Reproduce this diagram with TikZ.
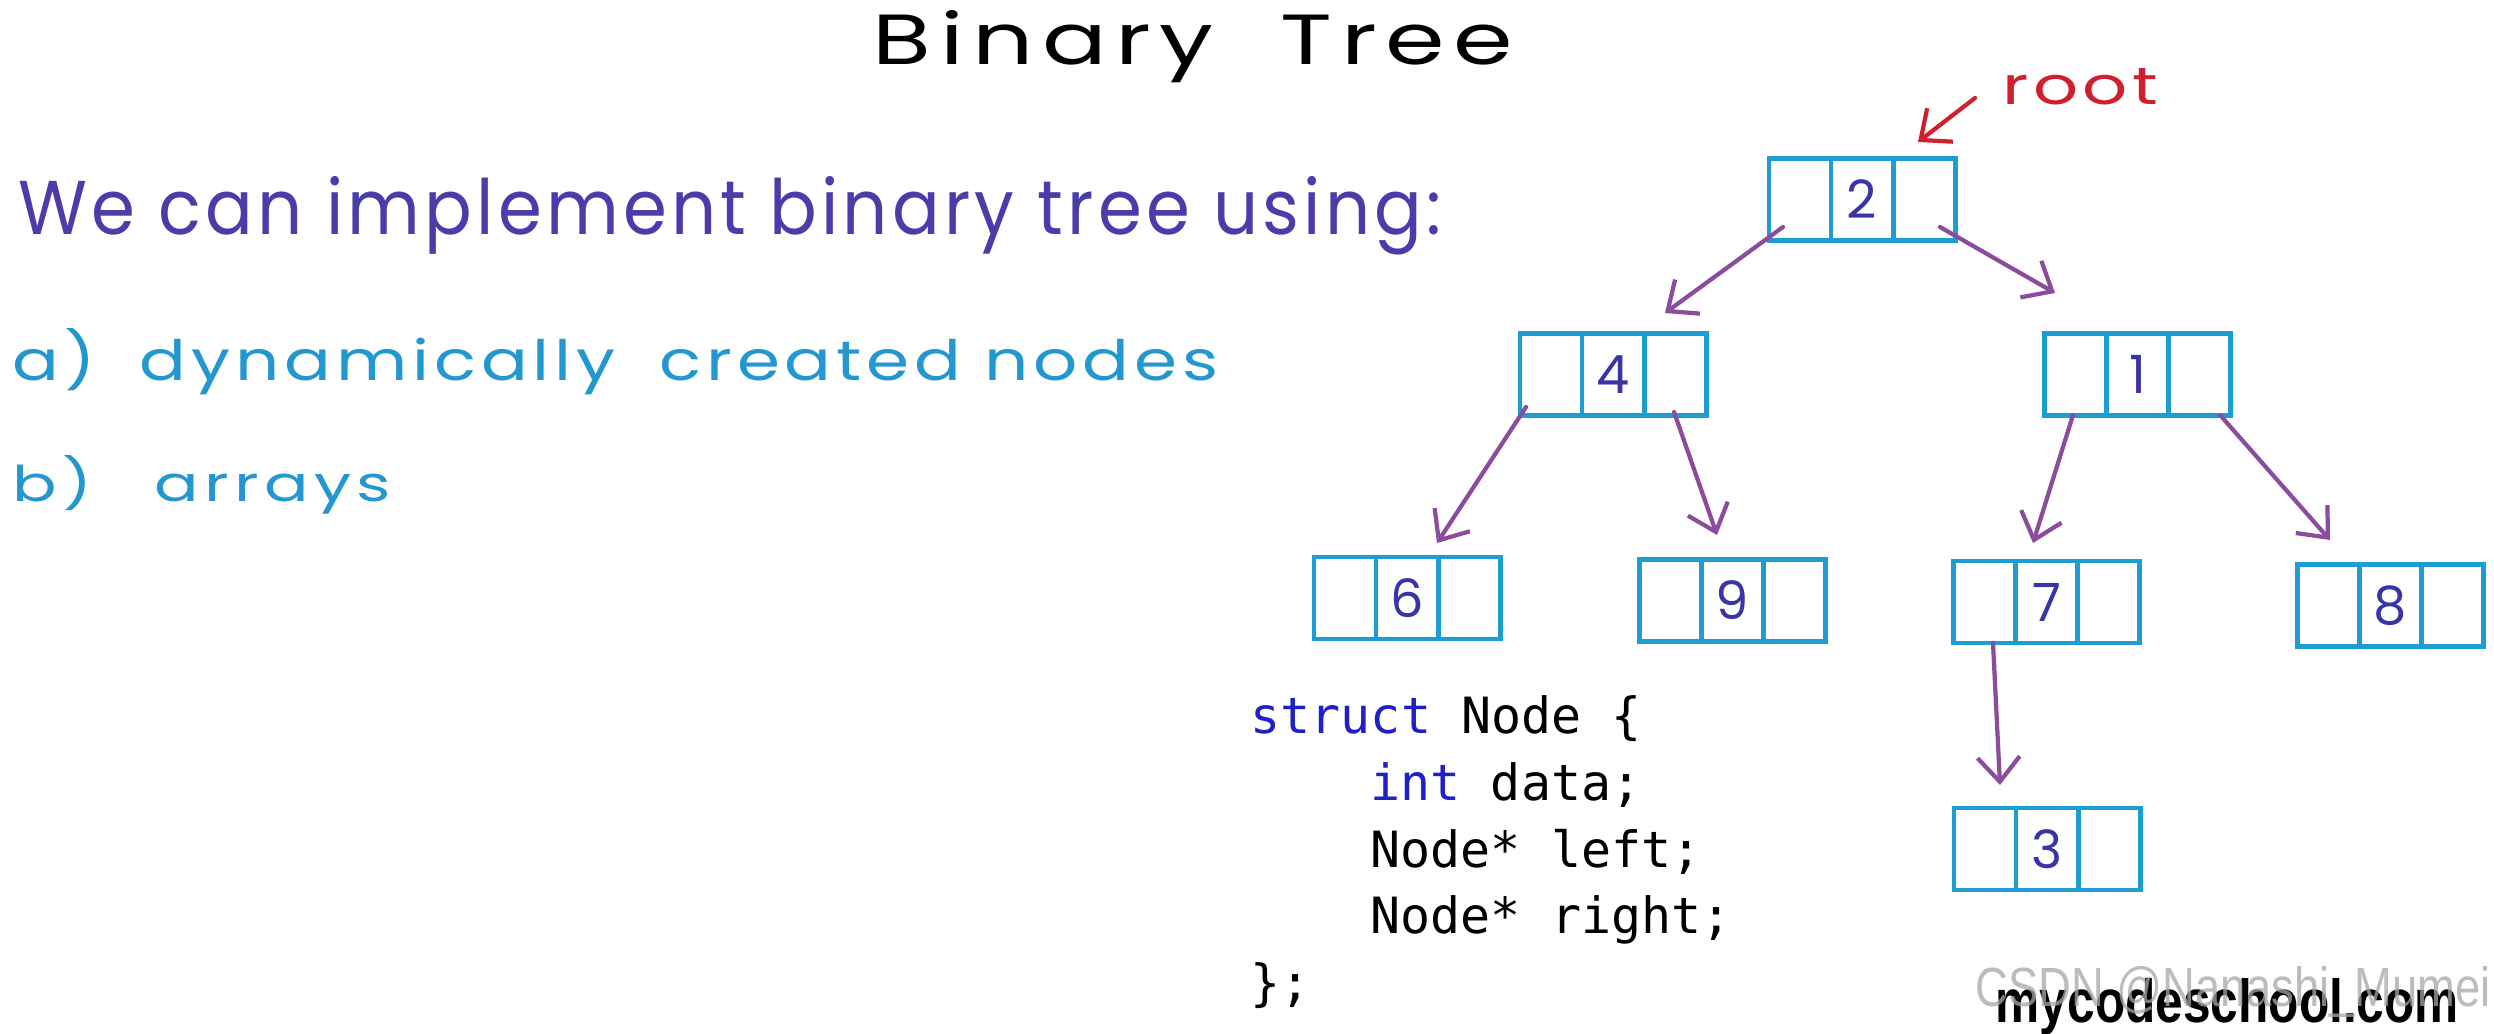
\documentclass[tikz,border=0pt]{standalone}
\usepackage{fontspec}
\usepackage{graphicx}
\setmainfont{Poppins}
\newfontfamily\handfont{Poppins}
\newfontfamily\codefont{DejaVu Sans Mono}
\newfontfamily\logofont{Liberation Sans}
\usetikzlibrary{arrows.meta,calc}
\definecolor{boxblue}{HTML}{1E9DD2}
\definecolor{numblue}{HTML}{3B33A8}
\definecolor{linepurple}{HTML}{4A3DAA}
\definecolor{cyantext}{HTML}{2398D0}
\definecolor{arrowpurple}{HTML}{8B4C9E}
\definecolor{rootred}{HTML}{D01F2E}
\definecolor{kwblue}{HTML}{2020C8}
\tikzset{
  cellbox/.style={draw=boxblue, line width=1.4pt, minimum width=1.86cm, minimum height=0.82cm,
    inner sep=0pt, text=numblue, font=\handfont\fontsize{15pt}{18pt}\selectfont,
    path picture={
      \draw[boxblue, line width=1.4pt]
        ($(path picture bounding box.south west)!0.3333!(path picture bounding box.south east)$) --
        ($(path picture bounding box.north west)!0.3333!(path picture bounding box.north east)$);
      \draw[boxblue, line width=1.4pt]
        ($(path picture bounding box.south west)!0.6667!(path picture bounding box.south east)$) --
        ($(path picture bounding box.north west)!0.6667!(path picture bounding box.north east)$);
    }},
  link/.style={draw=arrowpurple, line width=1.2pt, line cap=round,
    -{Straight Barb[length=7pt,width=12pt]}},
  txt/.style={inner sep=0pt, anchor=base west},
  codeline/.style={inner sep=0pt, anchor=base west, font=\codefont\fontsize{14.2pt}{17pt}\selectfont}
}
\begin{document}
\begin{tikzpicture}[x=0.01cm,y=-0.01cm]
\fill[white] (0,0) rectangle (2494,1034);
\useasboundingbox (0,0) rectangle (2494,1034);

% handwritten texts
\node[txt, text=black] (title) at (872,65)
  {\resizebox{6.40cm}{0.54cm}{\handfont\addfontfeatures{LetterSpace=9}Binary\hspace{0.7em}Tree}};
\node[txt, text=linepurple] (line1) at (18,235)
  {\resizebox{14.22cm}{0.58cm}{\handfont\addfontfeatures{LetterSpace=6}We can implement binary tree using:}};
\node[txt, text=cyantext] (linea) at (12,381)
  {\resizebox{12.05cm}{0.52cm}{\handfont\addfontfeatures{LetterSpace=7}a)\hspace{0.3em} dynamically\hspace{0.3em} created nodes}};
\node[txt, text=cyantext] (lineb) at (12,502)
  {\resizebox{3.78cm}{0.46cm}{\handfont\addfontfeatures{LetterSpace=8}b)\hspace{0.6em} arrays}};

% tree nodes
\node[cellbox] (r)  at (1862,199.5) {2};
\node[cellbox] (n4) at (1613,374.5) {4};
\node[cellbox] (n1) at (2137.5,374.5) {1};
\node[cellbox] (n6) at (1407,598) {6};
\node[cellbox] (n9) at (1732.5,600.5) {9};
\node[cellbox] (n7) at (2046.5,602) {7};
\node[cellbox] (n8) at (2390.5,605.5) {8};
\node[cellbox] (n3) at (2047,849) {3};

% root label and arrow
\node[txt, text=rootred] (rootlabel) at (2002,105)
  {\resizebox{1.55cm}{0.36cm}{\handfont\addfontfeatures{LetterSpace=6}root}};
\draw[link, draw=rootred] ($(rootlabel.base west)+(-27,-7)$) -- ($(r)+(56,-57.5)$);

% links
\draw[link] ($(r)+(-79,27.5)$) -- ($(n4)+(52,-61.5)$);
\draw[link] ($(r)+(78,27.5)$) -- ($(n1)+(-82.5,-81.5)$);
\draw[link] ($(n4)+(-87,32.5)$) -- ($(n6)+(30,-55)$);
\draw[link] ($(n4)+(61,37.5)$) -- ($(n9)+(-15.5,-65.5)$);
\draw[link] ($(n1)+(-64.5,40.5)$) -- ($(n7)+(-13.5,-59)$);
\draw[link] ($(n1)+(82.5,40.5)$) -- ($(n8)+(-60.5,-65.5)$);
\draw[link] ($(n7)+(-53.5,41)$) -- ($(n3)+(-47,-64)$);

% code
\node[codeline] (c1) at (1250,733) {\textcolor{kwblue}{struct} Node \{};
\node[codeline] (c2) at (1370,800) {\textcolor{kwblue}{int} data;};
\node[codeline] (c3) at (1370,867) {Node* left;};
\node[codeline] (c4) at (1370,933) {Node* right;};
\node[codeline] (c5) at (1250,1000) {\};};

% footer
\node[txt, text=black] (logo) at (1995,1022)
  {\resizebox{4.63cm}{0.44cm}{\logofont\bfseries mycodeschool.com}};
\node[txt, text=black!35, opacity=0.75] (wm) at (1975,1006)
  {\resizebox{5.15cm}{0.40cm}{\logofont CSDN @Nanashi\_Mumei}};
\end{tikzpicture}
\end{document}
